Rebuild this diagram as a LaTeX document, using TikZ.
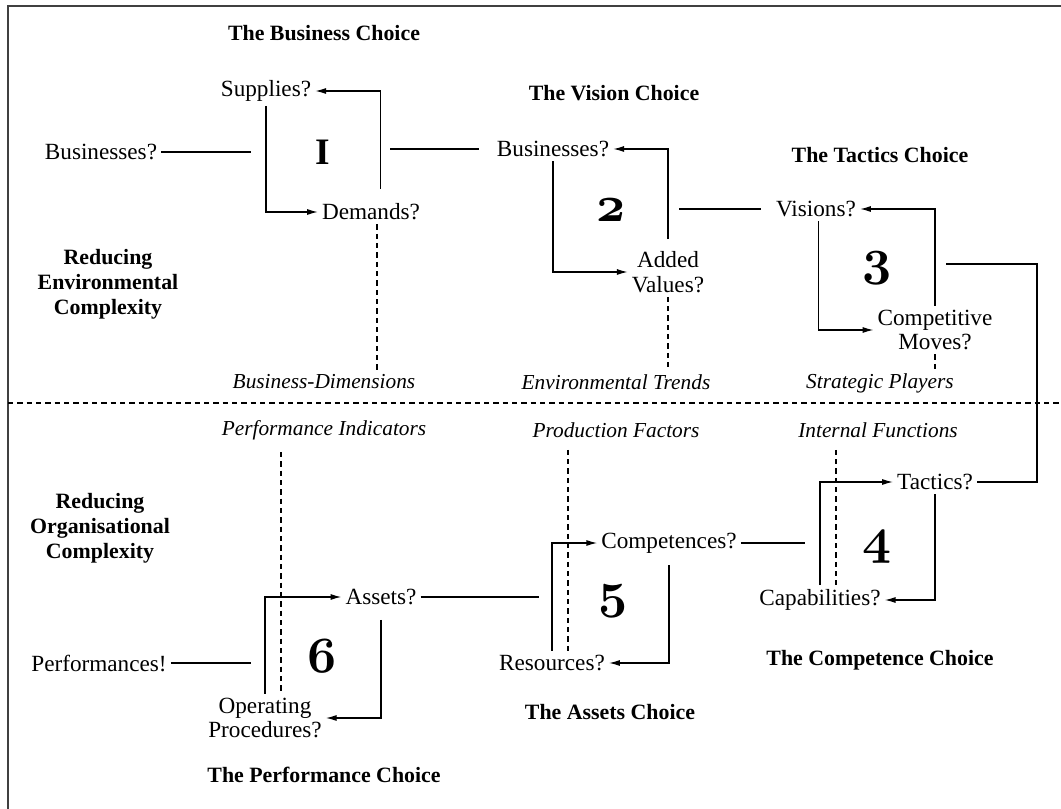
\documentclass[tikz,border=0pt]{standalone}
\usepackage{fontspec}
\setmainfont{Liberation Serif}
\usetikzlibrary{arrows.meta}
% old-style figures taken from the math italic fonts, freely scalable
\DeclareFontFamily{OML}{osfig}{}
\DeclareFontShape{OML}{osfig}{b}{it}{<-> cmmib10}{}
\begin{document}
\begin{tikzpicture}[x=0.75pt,y=-0.75pt,
  txt/.style={inner sep=3pt, font=\fontsize{17.4}{18.5}\selectfont, align=center},
  ttl/.style={inner sep=2pt, font=\fontsize{16.4}{18.75}\selectfont\bfseries, align=center},
  dim/.style={inner sep=3pt, font=\fontsize{16}{18}\selectfont\itshape},
  roman/.style={inner sep=0pt, font=\fontsize{28}{28}\selectfont\bfseries},
  num/.style={inner sep=0pt, font=\fontsize{38}{38}\usefont{OML}{osfig}{b}{it}},
  conn/.style={line width=0.9pt},
  flow/.style={conn, -{Latex[length=8pt,width=4.5pt]}},
  guide/.style={line width=0.8pt, dash pattern=on 4pt off 3pt},
  frame/.style={line width=1.5pt, black!75},
]
\useasboundingbox (0,0) rectangle (1061,809);

% frame and separating line
\coordinate (fbl) at (7.5,809);
\coordinate (ftl) at (7.5,6);
\coordinate (ftr) at (1061,6);
\draw[frame] (fbl) -- (ftl) -- (ftr);
\coordinate (hl) at (8,403);
\coordinate (hr) at (1061,403);
\draw[guide] (hl) -- (hr);

% headings
\node[ttl] (t1) at (324,33) {The Business Choice};
\node[ttl] (t2) at (614,93) {The Vision Choice};
\node[ttl] (t3) at (880,155) {The Tactics Choice};
\node[ttl] (rec) at (108,284) {Reducing\\Environmental\\Complexity};
\node[ttl] (roc) at (100,528) {Reducing\\Organisational\\Complexity};
\node[ttl] (t4) at (880,660) {The Competence Choice};
\node[ttl] (t5) at (610,712) {The Assets Choice};
\node[ttl] (t6) at (324,775) {The Performance Choice};

% questions
\node[txt] (bl) at (101,152) {Businesses?};
\node[txt] (sup) at (266,91) {Supplies?};
\node[txt] (dem) at (371,212) {Demands?};
\node[txt] (b2) at (553,149) {Businesses?};
\node[txt] (av) at (668,272) {Added\\Values?};
\node[txt] (vis) at (816,209) {Visions?};
\node[txt] (cm) at (935,330) {Competitive\\Moves?};
\node[txt] (tac) at (935,482) {Tactics?};
\node[txt] (cap) at (820,600) {Capabilities?};
\node[txt] (com) at (669,543) {Competences?};
\node[txt] (res) at (552,663) {Resources?};
\node[txt] (ass) at (381,597) {Assets?};
\node[txt] (op) at (265,718) {Operating\\Procedures?};
\node[txt] (perf) at (99,663) {Performances!};

% dimensions
\node[dim] (bd) at (324,382) {Business-Dimensions};
\node[dim] (et) at (616,382) {Environmental Trends};
\node[dim] (sp) at (880,383) {Strategic Players};
\node[dim] (pi) at (324,430) {Performance Indicators};
\node[dim] (pf) at (616,430) {Production Factors};
\node[dim] (inf) at (878,430) {Internal Functions};

% step numbers
\node[roman] (n1) at (323,152) {I};
\node[num] (n2) at (611,210) {2};
\node[num] (n3) at (877,268) {3};
\node[num] (n4) at (877,547) {4};
\node[num] (n5) at (613,601) {5};
\node[num] (n6) at (322,656) {6};

% loop 1
\draw[flow] (sup.south) |- (dem.west);
\draw[flow, shorten <=8pt] ([xshift=7pt]dem.north) |- (sup.east);
% loop 2
\draw[flow] (b2.south) |- (av.west);
\draw[flow, shorten <=6pt] (av.north) |- (b2.east);
% loop 3
\draw[flow] ([xshift=2pt]vis.south) |- (cm.west);
\draw[flow] (cm.north) |- (vis.east);
% loop 4
\draw[flow] (cap.north) |- (tac.west);
\draw[flow] (tac.south) |- (cap.east);
% loop 5
\draw[flow] (res.north) |- (com.west);
\draw[flow, shorten <=6pt] (com.south) |- (res.east);
% loop 6
\draw[flow] (op.north) |- (ass.west);
\draw[flow, shorten <=8pt] (ass.south) |- (op.east);

% links between the loops
\coordinate (k1) at (251,0);
\draw[conn] (bl.east) -- (bl.east -| k1);
\coordinate (k12) at (390,0);
\draw[conn, shorten >=10pt] (b2.west -| k12) -- (b2.west);
\coordinate (k23) at (679,0);
\draw[conn, shorten >=8pt] (vis.west -| k23) -- (vis.west);
\coordinate (k34a) at (946,264);
\coordinate (k34b) at (1037,264);
\draw[conn] (k34a) -- (k34b) |- (tac.east);
\coordinate (k45) at (805,0);
\draw[conn] (com.east) -- (com.east -| k45);
\coordinate (k56) at (539,0);
\draw[conn] (ass.east) -- (ass.east -| k56);
\coordinate (k6) at (251,0);
\draw[conn] (perf.east) -- (perf.east -| k6);

% dimension guides
\draw[guide] ([xshift=4.5pt]dem.south) -- ([xshift=4.5pt]dem.south |- bd.north);
\draw[guide] (av.south) -- (av.south |- et.north);
\draw[guide] (cm.south) -- (cm.south |- sp.north);
\draw[guide, shorten <=6pt] ([xshift=-32.25pt]pi.south) -- ([xshift=12pt]op.north);
\draw[guide, shorten <=6pt] ([xshift=-36pt]pf.south) -- ([xshift=12pt]res.north);
\draw[guide, shorten <=6pt] ([xshift=-31.5pt]inf.south) -- ([xshift=12pt]cap.north);
\end{tikzpicture}
\end{document}
